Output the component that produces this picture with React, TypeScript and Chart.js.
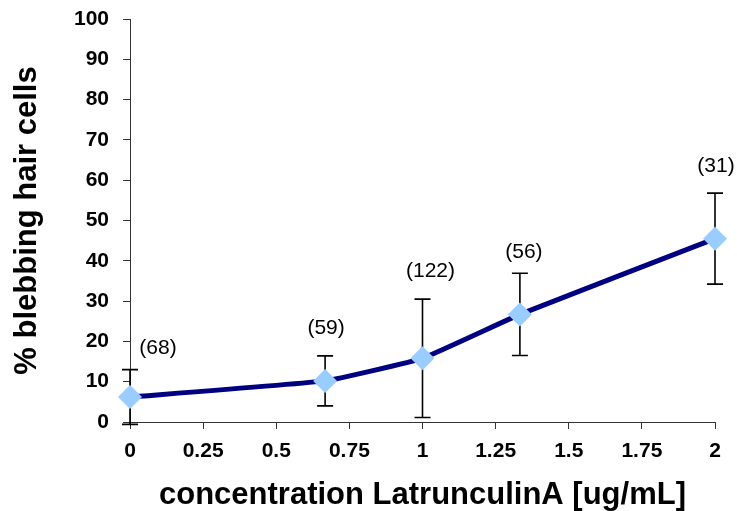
import React, { useEffect, useRef } from "react";
import { Chart, registerables } from "chart.js";

Chart.register(...registerables);

const concentrations = [0, 0.667, 1, 1.333, 2];
const meanPercent = [6.2, 10.2, 15.8, 26.7, 45.5];
const errorPercent = [6.8, 6.2, 14.7, 10.2, 11.3];
const countLabels = ["(68)", "(59)", "(122)", "(56)", "(31)"];

const X_TITLE = "concentration LatrunculinA [ug/mL]";
const Y_TITLE = "% blebbing hair cells";

const FONT = '"Liberation Sans", Arial, Helvetica, sans-serif';
const LABEL_OFFSETS = [
  [28, -21],
  [1, -28],
  [8, -28],
  [4, -21],
  [1, -27],
];

const errorBarPlugin = {
  id: "errorBars",
  beforeDatasetsDraw(chart: any) {
    const ctx = chart.ctx;
    const xs = chart.scales.x;
    const ys = chart.scales.y;
    ctx.save();
    ctx.strokeStyle = "#000000";
    ctx.lineWidth = 1.6;
    concentrations.forEach((c, i) => {
      const px = xs.getPixelForValue(c);
      const top = ys.getPixelForValue(meanPercent[i] + errorPercent[i]);
      const bot = ys.getPixelForValue(meanPercent[i] - errorPercent[i]);
      ctx.beginPath();
      ctx.moveTo(px, top);
      ctx.lineTo(px, bot);
      ctx.moveTo(px - 8, top);
      ctx.lineTo(px + 8, top);
      ctx.moveTo(px - 8, bot);
      ctx.lineTo(px + 8, bot);
      ctx.stroke();
    });
    ctx.restore();
  },
  afterDatasetsDraw(chart: any) {
    const ctx = chart.ctx;
    const xs = chart.scales.x;
    const ys = chart.scales.y;
    ctx.save();
    ctx.fillStyle = "#000000";
    ctx.font = `21px ${FONT}`;
    ctx.textAlign = "center";
    ctx.textBaseline = "middle";
    concentrations.forEach((c, i) => {
      const px = xs.getPixelForValue(c);
      const top = ys.getPixelForValue(meanPercent[i] + errorPercent[i]);
      const [dx, dy] = LABEL_OFFSETS[i];
      ctx.fillText(countLabels[i], px + dx, top + dy);
    });
    ctx.restore();
  },
};

export default function App() {
  const canvasRef = useRef<HTMLCanvasElement | null>(null);

  useEffect(() => {
    document.body.style.margin = "0";
    const canvas = canvasRef.current;
    if (!canvas) return;
    const chart = new Chart(canvas, {
      type: "line",
      data: {
        datasets: [
          {
            data: concentrations.map((c, i) => ({ x: c, y: meanPercent[i] })),
            borderColor: "#000080",
            borderWidth: 5,
            tension: 0.1,
            pointStyle: "rectRot",
            pointRadius: 12,
            pointHoverRadius: 12,
            pointBackgroundColor: "#99CCFF",
            pointBorderColor: "#99CCFF",
            pointBorderWidth: 0,
            clip: false,
          },
        ],
      },
      options: {
        responsive: false,
        animation: false,
        devicePixelRatio: 1,
        layout: { padding: { left: 0, right: 22, top: 19, bottom: 0 } },
        plugins: {
          legend: { display: false },
          tooltip: { enabled: false },
          title: { display: false },
        },
        scales: {
          x: {
            type: "linear",
            min: 0,
            max: 2,
            ticks: {
              stepSize: 0.25,
              color: "#000000",
              font: { family: FONT, size: 21, weight: "bold" },
              padding: 10,
              maxRotation: 0,
              autoSkip: false,
              callback: (v: any) => String(Number(v)),
            },
            grid: {
              drawOnChartArea: false,
              tickLength: 7,
              color: "#333333",
              lineWidth: 1,
            },
            border: { display: true, color: "#333333", width: 1 },
            title: {
              display: true,
              text: X_TITLE,
              color: "#000000",
              font: { family: FONT, size: 31, weight: "bold", lineHeight: 1 },
              padding: { top: 0, bottom: 0 },
            },
            afterFit(scale: any) {
              scale.height = 89;
              scale.paddingLeft = 0;
              scale.paddingRight = 0;
            },
          },
          y: {
            type: "linear",
            min: 0,
            max: 100,
            ticks: {
              stepSize: 10,
              color: "#000000",
              font: { family: FONT, size: 21, weight: "bold" },
              padding: 14,
              callback: (v: any) => String(Number(v)),
            },
            grid: {
              drawOnChartArea: false,
              tickLength: 7,
              color: "#333333",
              lineWidth: 1,
            },
            border: { display: true, color: "#333333", width: 1 },
            title: {
              display: true,
              text: Y_TITLE,
              color: "#000000",
              font: { family: FONT, size: 31, weight: "bold", lineHeight: 1 },
              padding: { top: 12, bottom: 0 },
            },
            afterFit(scale: any) {
              scale.width = 130;
              scale.paddingTop = 0;
              scale.paddingBottom = 0;
            },
          },
        },
      },
      plugins: [errorBarPlugin],
    } as any);
    return () => chart.destroy();
  }, []);

  return (
    <div style={{ width: 737, height: 511 }}>
      <canvas ref={canvasRef} width={737} height={511} style={{ display: "block" }} />
    </div>
  );
}
